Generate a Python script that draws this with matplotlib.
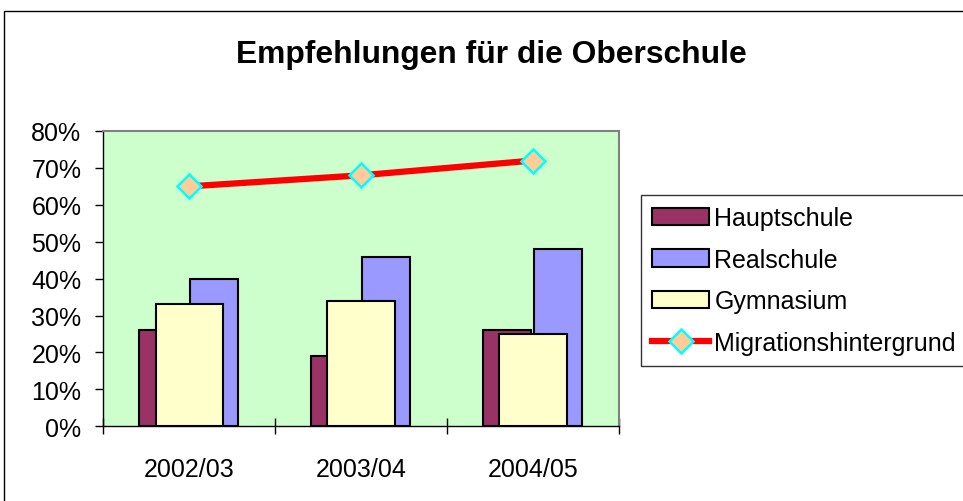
import matplotlib
matplotlib.use('Agg')
import matplotlib.pyplot as plt
from matplotlib.patches import Rectangle
from matplotlib.ticker import FuncFormatter

plt.rcParams['font.family'] = ['Liberation Sans', 'DejaVu Sans']

# data
years = ['2002/03', '2003/04', '2004/05']
haupt = [26, 19, 26]
real = [40, 46, 48]
gym = [33, 34, 25]
migr = [65, 68, 72]

fig = plt.figure(figsize=(9.63, 5.02), dpi=100)
ax = fig.add_axes([103.3 / 963, 74.7 / 502, 515.7 / 963, 295.3 / 502])
ax.set_facecolor('#CCFFCC')

x = range(len(years))
b1 = ax.bar([i - 0.29 for i in x], haupt, width=0.277, align='edge',
            color='#993366', edgecolor='black', linewidth=1.5, label='Hauptschule', zorder=2)
b2 = ax.bar([i + 0.005 for i in x], real, width=0.277, align='edge',
            color='#9999FF', edgecolor='black', linewidth=1.5, label='Realschule', zorder=2)
b3 = ax.bar(x, gym, width=0.392, color='#FFFFCC', edgecolor='black',
            linewidth=1.5, label='Gymnasium', zorder=3)
ln, = ax.plot(x, migr, color='red', linewidth=4.5, marker='D', markersize=12.5,
              markerfacecolor='#FFCC99', markeredgecolor='#00FFFF', markeredgewidth=1.8,
              label='Migrationshintergrund', zorder=4)

ax.set_xlim(-0.5, 2.5)
ax.set_ylim(0, 80)
ax.set_yticks(range(0, 81, 10))
ax.yaxis.set_major_formatter(FuncFormatter(lambda v, p: '%d%%' % v))
ax.tick_params(axis='y', length=6, width=1, pad=9.8, labelsize=18)

ax.set_xticks([-0.5, 0.5, 1.5, 2.5])
ax.set_xticklabels([])
ax.tick_params(axis='x', which='major', direction='inout', length=11.5, width=1)
ax.set_xticks(list(x), minor=True)
ax.set_xticklabels(years, minor=True)
ax.tick_params(axis='x', which='minor', length=0, pad=22, labelsize=18)

for s in ['top', 'right']:
    ax.spines[s].set_color('#808080')
    ax.spines[s].set_linewidth(1.5)
for s in ['left', 'bottom']:
    ax.spines[s].set_color('black')
    ax.spines[s].set_linewidth(1)

fig.text(0.5104, 0.89, 'Empfehlungen für die Oberschule', ha='center', va='center',
         fontsize=22.9, fontweight='bold')

leg = fig.legend([b1, b2, b3, ln],
                 ['Hauptschule', 'Realschule', 'Gymnasium', 'Migrationshintergrund'],
                 loc='upper left', bbox_to_anchor=(640.7 / 963, 1 - 196 / 502),
                 fontsize=18, frameon=True, fancybox=False, handlelength=2.3,
                 handleheight=0.68, handletextpad=0.2, labelspacing=0.7,
                 borderpad=0.45, borderaxespad=0)
leg.get_frame().set_edgecolor('black')
leg.get_frame().set_linewidth(1)

# outer chart border
fig.patches.append(Rectangle((4 / 963, -0.01), 1.0, 1 - 12 / 502 + 0.01,
                             transform=fig.transFigure, fill=False,
                             edgecolor='black', linewidth=1))

plt.savefig('out.png', dpi=100)
